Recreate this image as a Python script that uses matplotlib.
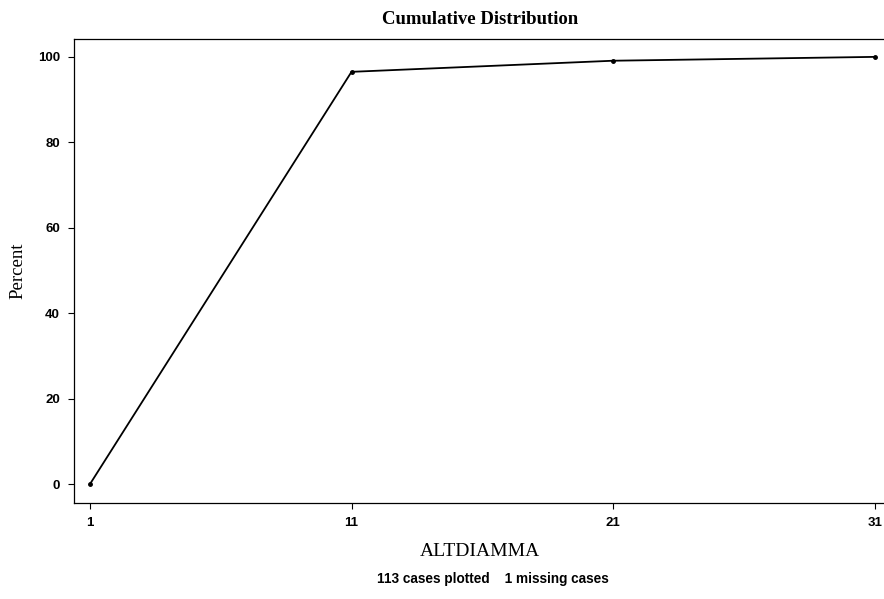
import matplotlib.pyplot as plt

# Cumulative distribution of ALTDIAMMA
x_vals = [1, 11, 21, 31]
pct_vals = [0, 96.5, 99.1, 100]
x_ticks = [1, 11, 21, 31]
y_ticks = [0, 20, 40, 60, 80, 100]

fig = plt.figure(figsize=(8.84, 5.99), dpi=100)
ax = fig.add_axes([0.0837, 0.160, 0.919, 0.775])

ax.plot(x_vals, pct_vals, color='black', linewidth=1.3, marker='o',
        markersize=2.5, markerfacecolor='black')

ax.set_xlim(0.39, 31.45)
ax.set_ylim(-4.45, 104.2)
ax.set_xticks(x_ticks)
ax.set_yticks(y_ticks)
ax.tick_params(direction='out', length=4, width=0.8, labelsize=9.5, pad=6)
for lab in ax.get_xticklabels() + ax.get_yticklabels():
    lab.set_family('Liberation Sans')
    lab.set_fontweight('bold')
for sp in ax.spines.values():
    sp.set_linewidth(0.9)
ax.spines['right'].set_visible(False)

ax.set_title('Cumulative Distribution', family='Liberation Serif',
             fontsize=13.5, fontweight='bold', pad=11)
ax.set_ylabel('Percent', family='Liberation Serif', fontsize=13.5, labelpad=8)
ax.set_xlabel('ALTDIAMMA', family='Liberation Serif', fontsize=14, labelpad=10)
fig.text(0.557, 0.026, '113 cases plotted    1 missing cases',
         family='Liberation Sans', fontsize=9.8, fontweight='bold', ha='center')

fig.savefig('out.png', dpi=100)
